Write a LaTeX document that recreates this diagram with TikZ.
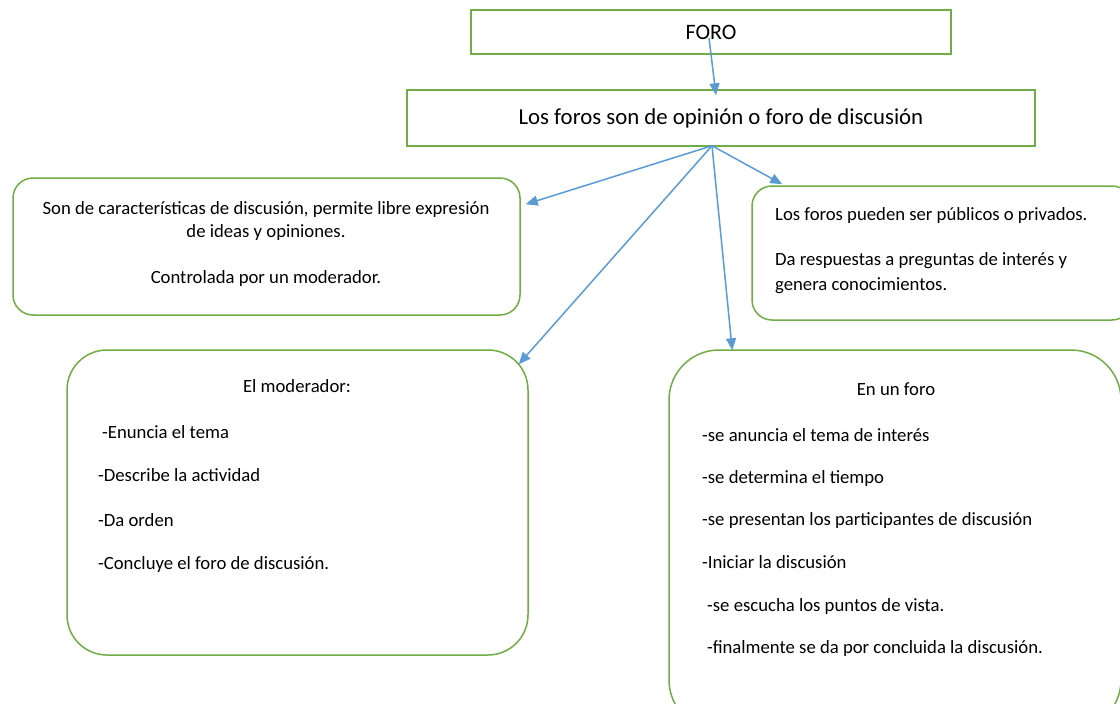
\documentclass[tikz,border=0pt]{standalone}
\usepackage{fontspec}
\setmainfont{Carlito}
\usetikzlibrary{arrows.meta,calc}
\definecolor{boxgreen}{RGB}{112,173,71}
\definecolor{linkblue}{RGB}{91,155,213}
\tikzset{
	box/.style={draw=boxgreen, line width=1.5pt, inner sep=0pt},
	link/.style={draw=linkblue, line width=1.5pt, -{Triangle[length=12pt,width=10pt]}},
	txt/.style={font=\fontsize{18.7}{22}\selectfont, inner sep=0pt},
}

\begin{document}
\begin{tikzpicture}[x=1pt,y=-1pt]
	\useasboundingbox (0,0) rectangle (1120,704);
	\clip (0,0) rectangle (1120,704);
	% boxes
	\node[box, minimum width=480pt, minimum height=44pt, font=\fontsize{22}{26}\selectfont] (foro) at (711,32) {FORO};
	\node[box, minimum width=628pt, minimum height=56pt, font=\fontsize{22.8}{27}\selectfont] (tit) at (721,118) {Los foros son de opinión o foro de discusión};
	\node[box, rounded corners=20pt, minimum width=507pt, minimum height=137pt] (lft) at (266.5,246.5) {};
	\node[box, rounded corners=20pt, minimum width=380pt, minimum height=134pt] (priv) at (942,253) {};
	\node[box, rounded corners=40pt, minimum width=461pt, minimum height=305pt] (modr) at (297.5,502.5) {};
	\node[box, rounded corners=50pt, minimum width=452pt, minimum height=380pt] (enforo) at (895,540) {};
	% texts
	\node[txt, anchor=base] (lft1) at (266,214) {Son de características de discusión, permite libre expresión};
	\node[txt, anchor=base] (lft2) at (266,237) {de ideas y opiniones.};
	\node[txt, anchor=base] (lft3) at (266,283) {Controlada por un moderador.};
	\node[txt, anchor=base west] (priv1) at (775,220) {Los foros pueden ser públicos o privados.};
	\node[txt, anchor=base west] (priv2) at (775,265) {Da respuestas a preguntas de interés y};
	\node[txt, anchor=base west] (priv3) at (775,290) {genera conocimientos.};
	\node[txt, anchor=base] (modr0) at (297,392) {El moderador:};
	\foreach \x/\y/\t [count=\i] in {102/438/-Enuncia el tema, 98/481/-Describe la actividad,
		98/526/-Da orden, 98/569/-Concluye el foro de discusión.}
		\node[txt, anchor=base west] (modr\i) at (\x,\y) {\t};
	\node[txt, anchor=base] (enforo0) at (896,395) {En un foro};
	\foreach \x/\y/\t [count=\i] in {702/441/-se anuncia el tema de interés, 702/483/-se determina el tiempo,
		702/525/-se presentan los participantes de discusión, 702/568/-Iniciar la discusión,
		707/611/-se escucha los puntos de vista., 707/653/-finalmente se da por concluida la discusión.}
		\node[txt, anchor=base west] (enforo\i) at (\x,\y) {\t};
	% arrows
	\coordinate (hub) at ($(tit.south)+(-9,-1)$);
	\draw[link] ($(foro.center)+(-2,6)$) -- ($(tit.north)+(-5,6)$);
	\draw[link] (hub) -- ($(lft.north east)+(5,27)$);
	\draw[link] (hub) -- ($(modr.north east)+(-10,15)$);
	\draw[link] (hub) -- ($(enforo.north west)+(64,1)$);
	\draw[link] (hub) -- ($(priv.north west)+(31,-1)$);
\end{tikzpicture}
\end{document}
